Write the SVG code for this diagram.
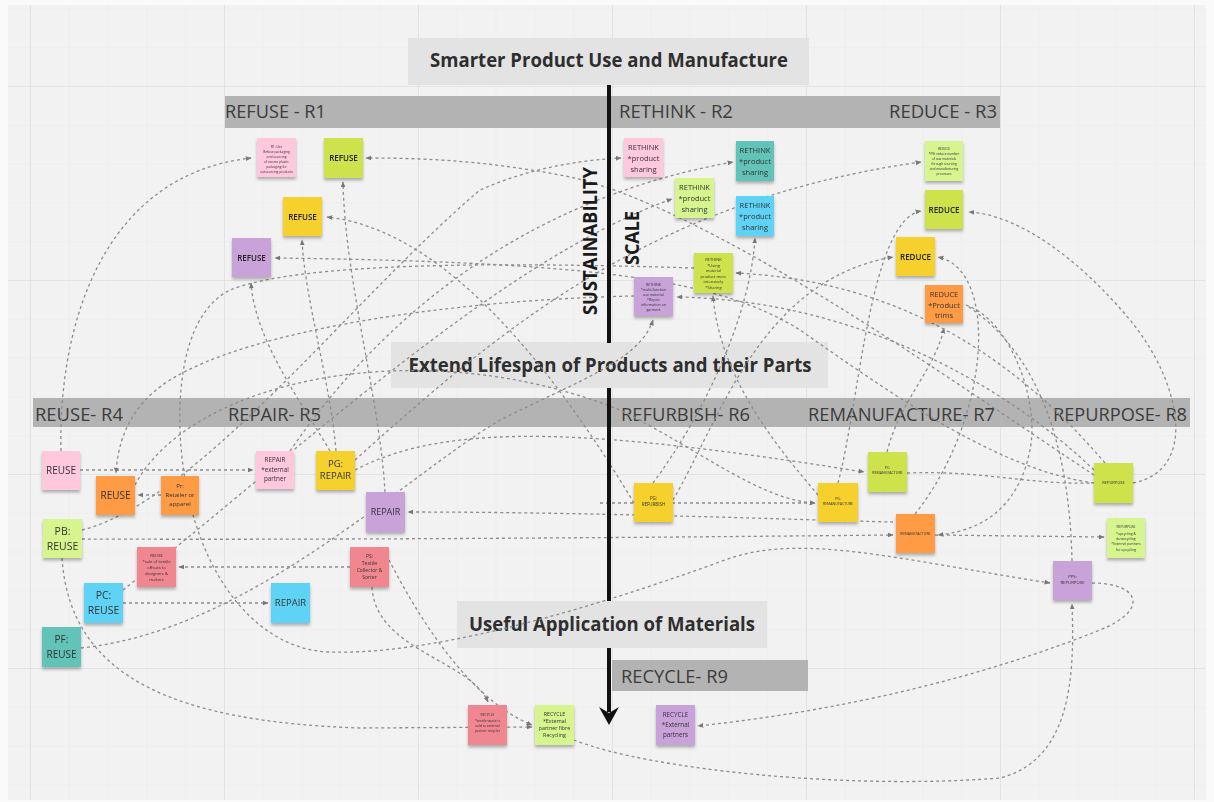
<svg xmlns="http://www.w3.org/2000/svg" width="1214" height="802" viewBox="0 0 1214 802">
  <defs>
    <pattern id="minor" width="38.8" height="38.8" patternUnits="userSpaceOnUse" x="30" y="86">
      <path d="M0,0 H38.8 M0,0 V38.8" fill="none" stroke="#e7e7e7" stroke-width="0.8"/>
    </pattern>
    <pattern id="major" width="194" height="194" patternUnits="userSpaceOnUse" x="30" y="86">
      <path d="M0,0 H194 M0,0 V194" fill="none" stroke="#dadada" stroke-width="1.2"/>
    </pattern>
    <filter id="sh" x="-20%" y="-20%" width="140%" height="150%">
      <feDropShadow dx="0" dy="2.5" stdDeviation="1.4" flood-color="#000" flood-opacity="0.28"/>
    </filter>
    <marker id="ah" viewBox="0 0 10 10" refX="9" refY="5" markerWidth="6" markerHeight="6" markerUnits="userSpaceOnUse" orient="auto">
      <path d="M0,1 L10,5 L0,9 z" fill="#777"/>
    </marker>
    <style>
      .bg { fill: #f2f2f2; }
      .title { fill: #e3e3e3; }
      .bar { fill: #b3b3b3; }
      .ttl { font-family: "Open Sans", "Liberation Sans", sans-serif; font-weight: 700; font-size: 19px; fill: #2e2e2e; text-anchor: middle; }
      .lbl { font-family: "Open Sans", "Liberation Sans", sans-serif; font-size: 18.5px; fill: #3c3c3c; }
      .vt { font-family: "Open Sans", "Liberation Sans", sans-serif; font-weight: 700; font-size: 19px; fill: #1a1a1a; text-anchor: middle; }
      .axis { stroke: #111; stroke-width: 4; fill: none; }
      .note { filter: url(#sh); }
      .nt { font-family: "Open Sans", "Liberation Sans", sans-serif; fill: #333; text-anchor: middle; }
      .nb { font-weight: 600; fill: #222; }
      .pink { fill: #ffc8dc; }
      .lime { fill: #cde24b; }
      .yel { fill: #f6d12e; }
      .pur { fill: #c8a2d9; }
      .teal { fill: #62c3b8; }
      .cyan { fill: #5fd3f6; }
      .lgt { fill: #d6f58f; }
      .org { fill: #ff9b45; }
      .sal { fill: #f0868f; }
      .conn path { fill: none; stroke: #8c8c8c; stroke-width: 1.3; stroke-dasharray: 3 3; }
      .conn path.a { marker-end: url(#ah); }
    </style>
  </defs>

  <!-- board background and grid -->
  <rect x="0" y="0" width="1214" height="802" fill="#fafafa"/>
  <rect class="bg" x="8" y="5" width="1198" height="795"/>
  <rect x="8" y="5" width="1198" height="795" fill="url(#minor)"/>
  <rect x="8" y="5" width="1198" height="795" fill="url(#major)"/>

  <!-- section headings -->
  <g id="heading-smarter">
    <rect class="title" x="408" y="38" width="401" height="47"/>
    <text class="ttl" x="609" y="67" textLength="358" lengthAdjust="spacingAndGlyphs">Smarter Product Use and Manufacture</text>
  </g>
  <g id="heading-extend">
    <rect class="title" x="391" y="342" width="437" height="46"/>
    <text class="ttl" x="610" y="372" textLength="403" lengthAdjust="spacingAndGlyphs">Extend Lifespan of Products and their Parts</text>
  </g>
  <g id="heading-useful">
    <rect class="title" x="457" y="601" width="310" height="47"/>
    <text class="ttl" x="612" y="631" textLength="286" lengthAdjust="spacingAndGlyphs">Useful Application of Materials</text>
  </g>

  <!-- R-strategy bars -->
  <g id="bar-r1-r3">
    <rect class="bar" x="225" y="96" width="775" height="32"/>
    <text class="lbl" x="225" y="118" textLength="101" lengthAdjust="spacingAndGlyphs">REFUSE - R1</text>
    <text class="lbl" x="619" y="118" textLength="114" lengthAdjust="spacingAndGlyphs">RETHINK - R2</text>
    <text class="lbl" x="889" y="118" textLength="108" lengthAdjust="spacingAndGlyphs">REDUCE - R3</text>
  </g>
  <g id="bar-r4-r8">
    <rect class="bar" x="33" y="398" width="1157" height="29"/>
    <text class="lbl" x="35" y="421" textLength="88" lengthAdjust="spacingAndGlyphs">REUSE- R4</text>
    <text class="lbl" x="228" y="421" textLength="93" lengthAdjust="spacingAndGlyphs">REPAIR- R5</text>
    <text class="lbl" x="621" y="421" textLength="129" lengthAdjust="spacingAndGlyphs">REFURBISH- R6</text>
    <text class="lbl" x="808" y="421" textLength="187" lengthAdjust="spacingAndGlyphs">REMANUFACTURE- R7</text>
    <text class="lbl" x="1053" y="421" textLength="134" lengthAdjust="spacingAndGlyphs">REPURPOSE- R8</text>
  </g>
  <g id="bar-r9">
    <rect class="bar" x="612" y="660" width="196" height="31"/>
    <text class="lbl" x="621" y="683" textLength="107" lengthAdjust="spacingAndGlyphs">RECYCLE- R9</text>
  </g>

  <!-- connectors -->
  <g id="connectors" class="conn">
    <path class="a" d="M61,451 C58,330 100,175 251,158"/>
    <path class="a" d="M80,470 L253,470"/>
    <path class="a" d="M634,296 C450,300 250,330 170,380 C130,405 118,440 116,473"/>
    <path class="a" d="M161,495 L138,495"/>
    <path class="a" d="M82,539 C300,540 600,538 893,535"/>
    <path class="a" d="M935,535 L1104,537"/>
    <path class="a" d="M966,305 C1010,320 1040,400 1030,450 C1020,500 990,530 938,535"/>
    <path class="a" d="M123,603 L268,603"/>
    <path class="a" d="M81,648 C250,630 400,480 500,420 C580,380 640,360 653,320"/>
    <path class="a" d="M694,268 C500,262 300,262 230,290 C190,310 178,370 180,430 C185,560 250,650 330,652 C420,655 560,620 725,560 C800,532 900,560 1050,583"/>
    <path class="a" d="M350,567 L179,567"/>
    <path class="a" d="M372,587 C375,650 470,660 488,702"/>
    <path class="a" d="M389,560 C420,620 470,700 532,725"/>
    <path class="a" d="M62,558 C70,680 180,722 360,728 L532,727"/>
    <path class="a" d="M574,740 C650,770 850,790 1000,778 C1070,760 1075,680 1072,604"/>
    <path class="a" d="M1092,583 C1140,583 1150,610 1100,630 C950,690 800,715 698,726"/>
    <path d="M1072,561 C1070,470 1050,360 966,305"/>
    <path class="a" d="M1133,483 C1200,470 1180,380 1130,320 C1080,260 1020,215 969,212"/>
    <path class="a" d="M1094,483 C1000,470 900,400 800,330 C720,280 600,262 275,258"/>
    <path d="M907,473 C980,470 1030,485 1092,483"/>
    <path class="a" d="M355,470 C450,420 600,430 864,472"/>
    <path class="a" d="M893,522 C800,520 600,512 408,512"/>
    <path class="a" d="M385,492 C380,400 345,280 343,182"/>
    <path class="a" d="M336,451 C330,380 305,300 302,240"/>
    <path class="a" d="M330,451 C300,400 255,340 251,283"/>
    <path class="a" d="M82,530 C200,500 350,300 480,190 C530,168 580,160 621,158"/>
    <path class="a" d="M290,451 C380,320 520,200 733,162"/>
    <path class="a" d="M123,590 C300,450 500,260 672,199"/>
    <path class="a" d="M355,460 C500,330 650,200 921,162"/>
    <path class="a" d="M838,483 C860,400 870,220 921,211"/>
    <path class="a" d="M673,500 C720,420 760,280 893,257"/>
    <path class="a" d="M915,514 C990,420 1000,270 938,257"/>
    <path class="a" d="M887,452 C900,400 935,370 944,328"/>
    <path class="a" d="M1094,470 C1000,380 850,300 677,297"/>
    <path class="a" d="M1105,463 C1000,340 880,280 736,273"/>
    <path class="a" d="M818,495 C780,450 720,380 713,296"/>
    <path class="a" d="M653,483 C700,420 750,320 755,238"/>
    <path class="a" d="M1094,475 C950,380 700,200 560,175 C480,160 420,158 366,158"/>
    <path class="a" d="M634,503 C560,380 450,230 327,217"/>
    <path class="a" d="M135,485 C190,380 420,330 620,410 C700,450 760,500 815,503"/>
    <path class="a" d="M600,503 L815,503"/>
  </g>

  <!-- central scale arrow -->
  <g id="scale-arrow">
    <path class="axis" d="M609,85 V343 M609,388 V601 M609,648 V712"/>
    <polygon points="599,707 609,725 619,707 609,713" fill="#111"/>
    <text class="vt" transform="translate(597,241) rotate(-90)" textLength="148" lengthAdjust="spacingAndGlyphs">SUSTAINABILITY</text>
    <text class="vt" transform="translate(639,238) rotate(-90)" textLength="54" lengthAdjust="spacingAndGlyphs">SCALE</text>
  </g>

  <!-- R1 refuse notes -->
  <g id="r1-note-pink" class="note">
    <rect class="pink" x="257" y="138" width="39" height="39"/>
    <text class="nt" font-size="3.3"><tspan x="276.5" y="148">R1: Use</tspan><tspan x="276.5" y="153">Refuse packaging</tspan><tspan x="276.5" y="158">and sourcing</tspan><tspan x="276.5" y="163">of excess plastic</tspan><tspan x="276.5" y="168">packaging for</tspan><tspan x="276.5" y="173">outsourcing products</tspan></text>
  </g>
  <g id="r1-refuse-lime" class="note">
    <rect class="lime" x="324" y="138" width="39" height="40"/>
    <text class="nt nb" font-size="8" x="343.5" y="161">REFUSE</text>
  </g>
  <g id="r1-refuse-yellow" class="note">
    <rect class="yel" x="283" y="197" width="39" height="39"/>
    <text class="nt nb" font-size="8" x="302.5" y="220">REFUSE</text>
  </g>
  <g id="r1-refuse-purple" class="note">
    <rect class="pur" x="232" y="238" width="39" height="39"/>
    <text class="nt nb" font-size="8" x="251.5" y="261">REFUSE</text>
  </g>

  <!-- R2 rethink notes -->
  <g id="r2-rethink-pink" class="note">
    <rect class="pink" x="624" y="138" width="39" height="39"/>
    <text class="nt" font-size="7.5"><tspan x="643.5" y="150">RETHINK</tspan><tspan x="643.5" y="161">*product</tspan><tspan x="643.5" y="172">sharing</tspan></text>
  </g>
  <g id="r2-rethink-teal" class="note">
    <rect class="teal" x="736" y="141" width="38" height="40"/>
    <text class="nt" font-size="7.5"><tspan x="755" y="153">RETHINK</tspan><tspan x="755" y="164">*product</tspan><tspan x="755" y="175">sharing</tspan></text>
  </g>
  <g id="r2-rethink-light" class="note">
    <rect class="lgt" x="675" y="178" width="39" height="40"/>
    <text class="nt" font-size="7.5"><tspan x="694.5" y="190">RETHINK</tspan><tspan x="694.5" y="201">*product</tspan><tspan x="694.5" y="212">sharing</tspan></text>
  </g>
  <g id="r2-rethink-cyan" class="note">
    <rect class="cyan" x="736" y="196" width="38" height="40"/>
    <text class="nt" font-size="7.5"><tspan x="755" y="208">RETHINK</tspan><tspan x="755" y="219">*product</tspan><tspan x="755" y="230">sharing</tspan></text>
  </g>
  <g id="r2-rethink-lime" class="note">
    <rect class="lime" x="694" y="253" width="39" height="40"/>
    <text class="nt" font-size="4"><tspan x="713.5" y="261">RETHINK</tspan><tspan x="713.5" y="266.5">*Using</tspan><tspan x="713.5" y="272">material</tspan><tspan x="713.5" y="277.5">product more</tspan><tspan x="713.5" y="283">intensively</tspan><tspan x="713.5" y="288.5">*Sharing</tspan></text>
  </g>
  <g id="r2-rethink-purple" class="note">
    <rect class="pur" x="634" y="277" width="39" height="39"/>
    <text class="nt" font-size="3.6"><tspan x="653.5" y="286">RETHINK</tspan><tspan x="653.5" y="291">*multi-function</tspan><tspan x="653.5" y="296">use material</tspan><tspan x="653.5" y="301">*Repair</tspan><tspan x="653.5" y="306">information on</tspan><tspan x="653.5" y="311">garment</tspan></text>
  </g>

  <!-- R3 reduce notes -->
  <g id="r3-note-light" class="note">
    <rect class="lgt" x="925" y="141" width="38" height="40"/>
    <text class="nt" font-size="3.2"><tspan x="944" y="150">REDUCE</tspan><tspan x="944" y="155">*PB: reduce number</tspan><tspan x="944" y="160">of raw materials</tspan><tspan x="944" y="165">through sourcing</tspan><tspan x="944" y="170">and manufacturing</tspan><tspan x="944" y="175">processes</tspan></text>
  </g>
  <g id="r3-reduce-lime" class="note">
    <rect class="lime" x="925" y="190" width="38" height="39"/>
    <text class="nt nb" font-size="8" x="944" y="213">REDUCE</text>
  </g>
  <g id="r3-reduce-yellow" class="note">
    <rect class="yel" x="896" y="237" width="39" height="39"/>
    <text class="nt nb" font-size="8" x="915.5" y="260">REDUCE</text>
  </g>
  <g id="r3-reduce-orange" class="note">
    <rect class="org" x="925" y="285" width="38" height="38"/>
    <text class="nt" font-size="7.5"><tspan x="944" y="297">REDUCE</tspan><tspan x="944" y="307.5">*Product</tspan><tspan x="944" y="318">trims</tspan></text>
  </g>

  <!-- R4 reuse / R5 repair notes -->
  <g id="r4-reuse-pink" class="note">
    <rect class="pink" x="42" y="451" width="38" height="39"/>
    <text class="nt" font-size="10" x="61" y="474">REUSE</text>
  </g>
  <g id="r4-reuse-orange" class="note">
    <rect class="org" x="96" y="476" width="39" height="39"/>
    <text class="nt" font-size="10" x="115.5" y="499">REUSE</text>
  </g>
  <g id="r4-retailer" class="note">
    <rect class="org" x="161" y="476" width="38" height="39"/>
    <text class="nt" font-size="6"><tspan x="180" y="488">Pr:</tspan><tspan x="180" y="497">Retailer or</tspan><tspan x="180" y="506">apparel</tspan></text>
  </g>
  <g id="r5-repair-partner" class="note">
    <rect class="pink" x="256" y="451" width="38" height="38"/>
    <text class="nt" font-size="6.3"><tspan x="275" y="462">REPAIR</tspan><tspan x="275" y="471.5">*external</tspan><tspan x="275" y="481">partner</tspan></text>
  </g>
  <g id="r5-pg-repair" class="note">
    <rect class="yel" x="316" y="451" width="39" height="39"/>
    <text class="nt" font-size="9.5"><tspan x="335.5" y="467">PG:</tspan><tspan x="335.5" y="479">REPAIR</tspan></text>
  </g>
  <g id="r5-repair-purple" class="note">
    <rect class="pur" x="366" y="492" width="39" height="40"/>
    <text class="nt" font-size="9" x="385.5" y="515">REPAIR</text>
  </g>
  <g id="r4-pb-reuse" class="note">
    <rect class="lgt" x="43" y="519" width="39" height="39"/>
    <text class="nt" font-size="10.5"><tspan x="62.5" y="535">PB:</tspan><tspan x="62.5" y="550">REUSE</tspan></text>
  </g>
  <g id="r4-offcuts" class="note">
    <rect class="sal" x="137" y="547" width="39" height="40"/>
    <text class="nt" font-size="4.2"><tspan x="156.5" y="557">REUSE</tspan><tspan x="156.5" y="563">*sale of textile</tspan><tspan x="156.5" y="569">offcuts to</tspan><tspan x="156.5" y="575">designers &amp;</tspan><tspan x="156.5" y="581">makers</tspan></text>
  </g>
  <g id="r5-textile-sorter" class="note">
    <rect class="sal" x="350" y="547" width="39" height="40"/>
    <text class="nt" font-size="5"><tspan x="369.5" y="558">PS:</tspan><tspan x="369.5" y="565">Textile</tspan><tspan x="369.5" y="572">Collector &amp;</tspan><tspan x="369.5" y="579">Sorter</tspan></text>
  </g>
  <g id="r4-pc-reuse" class="note">
    <rect class="cyan" x="84" y="583" width="39" height="40"/>
    <text class="nt" font-size="10.5"><tspan x="103.5" y="599">PC:</tspan><tspan x="103.5" y="614">REUSE</tspan></text>
  </g>
  <g id="r5-repair-cyan" class="note">
    <rect class="cyan" x="271" y="583" width="39" height="40"/>
    <text class="nt" font-size="9.5" x="290.5" y="606">REPAIR</text>
  </g>
  <g id="r4-pf-reuse" class="note">
    <rect class="teal" x="42" y="627" width="39" height="40"/>
    <text class="nt" font-size="10"><tspan x="61.5" y="643">PF:</tspan><tspan x="61.5" y="658">REUSE</tspan></text>
  </g>

  <!-- R6 refurbish / R7 remanufacture / R8 repurpose notes -->
  <g id="r6-pg-refurbish" class="note">
    <rect class="yel" x="634" y="483" width="39" height="39"/>
    <text class="nt" font-size="4.5"><tspan x="653.5" y="500">PG:</tspan><tspan x="653.5" y="506">REFURBISH</tspan></text>
  </g>
  <g id="r7-pg-reman" class="note">
    <rect class="yel" x="818" y="483" width="40" height="39"/>
    <text class="nt" font-size="3.6"><tspan x="838" y="500">PG:</tspan><tspan x="838" y="505">REMANUFACTURE</tspan></text>
  </g>
  <g id="r7-pc-reman" class="note">
    <rect class="lime" x="868" y="452" width="39" height="40"/>
    <text class="nt" font-size="3.6"><tspan x="887.5" y="469">PC:</tspan><tspan x="887.5" y="474">REMANUFACTURE</tspan></text>
  </g>
  <g id="r7-reman-orange" class="note">
    <rect class="org" x="896" y="514" width="39" height="39"/>
    <text class="nt" font-size="3.6" x="915.5" y="535">REMANUFACTURE</text>
  </g>
  <g id="r8-repurpose-lime" class="note">
    <rect class="lime" x="1094" y="463" width="39" height="40"/>
    <text class="nt" font-size="4" x="1113.5" y="484">REPURPOSE</text>
  </g>
  <g id="r8-upcycling" class="note">
    <rect class="lgt" x="1107" y="518" width="38" height="40"/>
    <text class="nt" font-size="3.4"><tspan x="1126" y="528">REPURPOSE</tspan><tspan x="1126" y="535">*upcycling &amp;</tspan><tspan x="1126" y="540">downcycling</tspan><tspan x="1126" y="545">*External partners</tspan><tspan x="1126" y="551">for upcycling</tspan></text>
  </g>
  <g id="r8-pps-repurpose" class="note">
    <rect class="pur" x="1053" y="561" width="39" height="39"/>
    <text class="nt" font-size="4.3"><tspan x="1072.5" y="578">PPS:</tspan><tspan x="1072.5" y="584">REPURPOSE</tspan></text>
  </g>

  <!-- R9 recycle notes -->
  <g id="r9-textile-waste" class="note">
    <rect class="sal" x="468" y="705" width="39" height="40"/>
    <text class="nt" font-size="3.4"><tspan x="487.5" y="716">RECYCLE</tspan><tspan x="487.5" y="722">*textile waste is</tspan><tspan x="487.5" y="727">sold to external</tspan><tspan x="487.5" y="732">partner recycler</tspan></text>
  </g>
  <g id="r9-fibre" class="note">
    <rect class="lgt" x="535" y="705" width="39" height="40"/>
    <text class="nt" font-size="5.3"><tspan x="554.5" y="716">RECYCLE</tspan><tspan x="554.5" y="723">*External</tspan><tspan x="554.5" y="730">partner fibre</tspan><tspan x="554.5" y="737">Recycling</tspan></text>
  </g>
  <g id="r9-external" class="note">
    <rect class="pur" x="656" y="705" width="39" height="40"/>
    <text class="nt" font-size="6.3"><tspan x="675.5" y="717">RECYCLE</tspan><tspan x="675.5" y="727">*External</tspan><tspan x="675.5" y="737">partners</tspan></text>
  </g>
</svg>
